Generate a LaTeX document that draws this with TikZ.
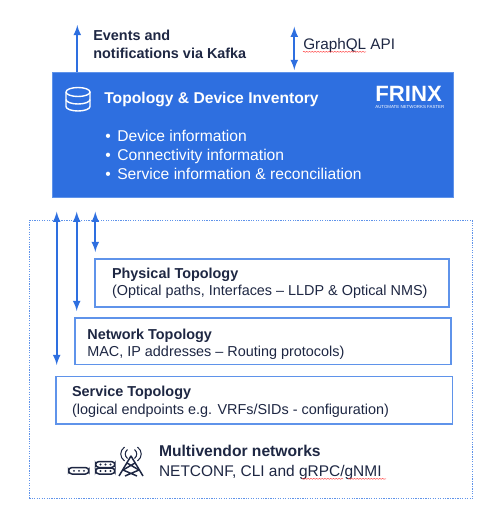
\documentclass[tikz,border=0pt]{standalone}
\usepackage{xcolor}
\usepackage{fontspec}
\setmainfont{Liberation Sans}
\usetikzlibrary{decorations.pathmorphing}
\definecolor{frinxblue}{HTML}{2E6FE0}
\definecolor{edgeblue}{HTML}{5F93EA}
\definecolor{inkdark}{HTML}{1E2743}
\tikzset{
    topobox/.style={draw=edgeblue, line width=0.9pt, fill=white, inner sep=0pt},
    headtext/.style={anchor=base west, inner sep=0pt, text=inkdark, font=\fontsize{8.2}{9.8}\selectfont\bfseries},
    bodytext/.style={anchor=base west, inner sep=0pt, text=inkdark, font=\fontsize{8.2}{9.8}\selectfont},
    linkarrow/.style={<->, >=latex, line width=1pt, draw=frinxblue},
    spellmark/.style={draw=red!75, line width=0.25pt, decorate, decoration={snake, amplitude=0.3pt, segment length=1.6pt}},
    iconline/.style={draw=inkdark, line width=0.85pt}
}
\begin{document}
\begin{tikzpicture}[x=0.02cm, y=-0.02cm]
    \useasboundingbox (0,0) rectangle (500,518);

    % Outer frame
    \node[draw=edgeblue, line width=0.6pt, dash pattern=on 0.7pt off 0.7pt, minimum width=8.87cm, minimum height=5.56cm, inner sep=0pt] (frame) at (251,359.7) {};

    % Inventory
    \node[fill=frinxblue, draw=edgeblue, line width=0.4pt, minimum width=8.02cm, minimum height=2.5cm, inner sep=0pt] (inventory) at (252.5,134.5) {};
    \node[headtext, text=white, font=\fontsize{8.9}{10.6}\selectfont\bfseries] (invtitle) at (104,103) {Topology \& Device Inventory};
    \node[bodytext, text=white, font=\fontsize{8.9}{10.6}\selectfont] (info1) at (105,141.7) {\makebox[6.8pt][l]{\textbullet}Device information};
    \node[bodytext, text=white, font=\fontsize{8.9}{10.6}\selectfont] (info2) at (105,160) {\makebox[6.8pt][l]{\textbullet}Connectivity information};
    \node[bodytext, text=white, font=\fontsize{8.9}{10.6}\selectfont] (info3) at (105,179) {\makebox[6.8pt][l]{\textbullet}Service information \& reconciliation};

    % Logo
    \node[headtext, text=white, font=\fontsize{12.6}{14}\selectfont\bfseries] (logo) at (375,101.7) {FRINX};
    \node[bodytext, text=white, font=\fontsize{2.5}{3}\selectfont] (tagline) at (375,108.7) {AUTOMATE NETWORKS FASTER};

    % Database icon
    \draw[white, line width=0.8pt] (66,92) arc[start angle=180, end angle=-180, x radius=12, y radius=-4.5];
    \draw[white, line width=0.8pt] (66,92) -- (66,106.5) arc[start angle=180, end angle=360, x radius=12, y radius=-4.5] -- (90,92);
    \draw[white, line width=0.8pt] (66,99.5) arc[start angle=180, end angle=360, x radius=12, y radius=-4.5];

    % Top labels
    \node[headtext] (events) at (93,40) {Events and};
    \node[headtext] (kafka) at (93,58) {notifications via Kafka};
    \node[bodytext, font=\fontsize{8.7}{10.4}\selectfont] (graphql) at (303,49.3) {GraphQL API};
    \draw[spellmark] (303,51.8) -- (366,51.8);

    % Topology boxes
    \node[topobox, minimum width=7.08cm, minimum height=0.95cm] (physical) at (272,283) {};
    \node[headtext] (phystitle) at (111.7,278) {Physical Topology};
    \node[bodytext] (physdesc) at (111.7,295.7) {(Optical paths, Interfaces – LLDP \& Optical NMS)};

    \node[topobox, minimum width=7.52cm, minimum height=0.94cm] (network) at (263,341.2) {};
    \node[headtext] (nettitle) at (87,339) {Network Topology};
    \node[bodytext] (netdesc) at (87,356.7) {MAC, IP addresses – Routing protocols)};

    \node[topobox, minimum width=7.93cm, minimum height=0.95cm] (service) at (254.3,400.3) {};
    \node[headtext] (svctitle) at (71.7,396.7) {Service Topology};
    \node[bodytext] (svcdesc) at (71.7,414) {(logical endpoints e.g. VRFs/SIDs - configuration)};

    % Multivendor
    \node[headtext, font=\fontsize{8.9}{10.6}\selectfont\bfseries] (vendtitle) at (158.7,456.7) {Multivendor networks};
    \node[bodytext, font=\fontsize{8.8}{10.5}\selectfont] (venddesc) at (158.7,476) {NETCONF, CLI and gRPC/gNMI};
    \draw[spellmark] (301.7,478.8) -- (343,478.8);
    \draw[spellmark] (348,478.8) -- (386,478.8);

    % Device icons
    \draw[iconline, rounded corners=2pt] (68.5,467.5) rectangle (89,474);
    \draw[iconline, rounded corners=2pt] (95.5,461.5) rectangle (115,467.5);
    \draw[iconline, rounded corners=2pt] (95.5,468) rectangle (115,474);
    \foreach \dotx in {74,79,84} \fill[inkdark] (\dotx,470.8) circle (0.6pt);
    \foreach \dotx in {100.5,105.5,110.5} {
        \fill[inkdark] (\dotx,464.5) circle (0.6pt);
        \fill[inkdark] (\dotx,471) circle (0.6pt);
    }

    % Tower icon
    \draw[iconline, line join=round] (119,476) -- (131,456) -- (143,476);
    \draw[iconline] (123,470) -- (137,476) (139,470) -- (125,476) (127,463) -- (139,470) (135,463) -- (123,470);
    \draw[iconline, line width=0.6pt] (127.5,449.5) .. controls (124.5,452) and (124.5,456) .. (127.5,458.5);
    \draw[iconline, line width=0.6pt] (134.5,449.5) .. controls (137.5,452) and (137.5,456) .. (134.5,458.5);
    \draw[iconline, line width=0.6pt] (124.5,447) .. controls (119.5,451) and (119.5,457) .. (124.5,461);
    \draw[iconline, line width=0.6pt] (137.5,447) .. controls (142.5,451) and (142.5,457) .. (137.5,461);

    % Arrow ends
    \coordinate (eventsend) at (77.3,25);
    \coordinate (apitop) at (294.3,26.7);
    \coordinate (apibot) at (294.3,70);
    \coordinate (svctop) at (56.7,211.7);
    \coordinate (svcbot) at (56.7,365);
    \coordinate (nettop) at (76.7,211.7);
    \coordinate (netbot) at (76.7,311);
    \coordinate (phystop) at (95.3,211.7);
    \coordinate (physbot) at (95.3,252);

    % Arrows
    \draw[linkarrow, <-] (eventsend) -- (eventsend |- inventory.north);
    \draw[linkarrow] (apitop) -- (apibot);
    \draw[linkarrow] (svctop) -- (svcbot);
    \draw[linkarrow] (nettop) -- (netbot);
    \draw[linkarrow] (phystop) -- (physbot);
\end{tikzpicture}
\end{document}
